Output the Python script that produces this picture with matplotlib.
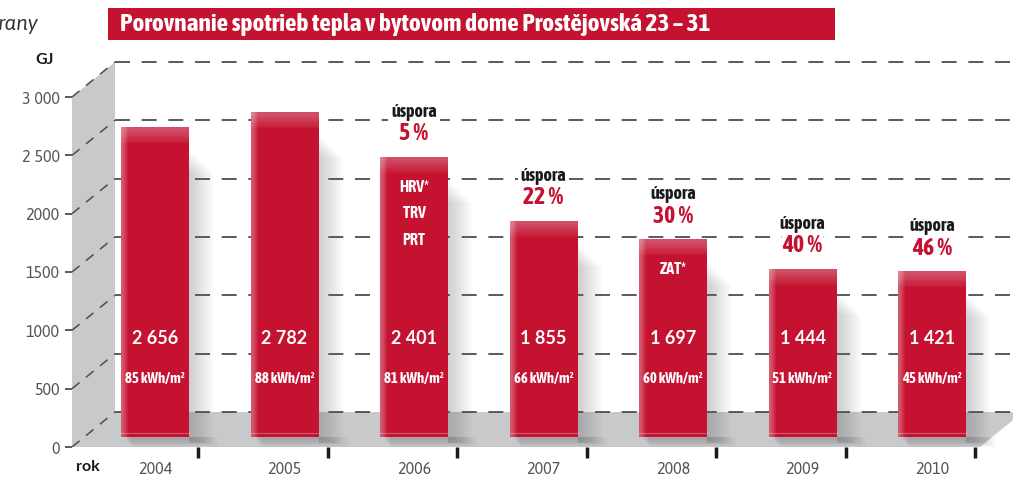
import matplotlib.pyplot as plt
from matplotlib.patches import Rectangle, Polygon

# data
years = ['2004', '2005', '2006', '2007', '2008', '2009', '2010']
heat_gj = [2656, 2782, 2401, 1855, 1697, 1444, 1421]
heat_labels = ['2 656', '2 782', '2 401', '1 855', '1 697', '1 444', '1 421']
specific_kwh = [85, 88, 81, 66, 60, 51, 45]
savings_pct = [None, None, 5, 22, 30, 40, 46]
measures = [[], [], ['HRV*', 'TRV', 'PRT'], [], ['ZAT*'], [], []]
y_ticks = [0, 500, 1000, 1500, 2000, 2500, 3000]
y_tick_labels = ['0', '500', '1000', '1500', '2000', '2 500', '3 000']

RED = '#c41230'
GRAY = '#c8c9cb'
DARK = '#4d4d4d'
NARROW = ['Asap Condensed', 'DejaVu Sans']
REGULAR = ['Asap', 'Lato', 'DejaVu Sans']
BOLD = ['Lato', 'DejaVu Sans']

plt.rcParams['font.family'] = REGULAR
plt.rcParams['lines.scale_dashes'] = False

W, H = 1013, 478
PX = 350 / 3000            # pixels per GJ
UNIT = 129.5               # pixels per category
XMIN = -(155 - 72) / UNIT
XMAX = XMIN + (W - 72) / UNIT
DX = 43 / UNIT             # depth offset (x)
DY = 35 / PX               # depth offset (y, GJ)
BASE = 10 / PX             # bars stand slightly behind the front edge
BAR_W = 68 / UNIT

fig = plt.figure(figsize=(W / 100, H / 100), dpi=100)
ax = fig.add_axes([72 / W, (H - 447) / H, (W - 72) / W, 447 / H])
ax.set_xlim(XMIN, XMAX)
ax.set_ylim(0, 447 / PX)
for s in ax.spines.values():
    s.set_visible(False)

# left wall and floor
ax.add_patch(Polygon([(XMIN, 0), (XMIN, 3000), (XMIN + DX, 3000 + DY), (XMIN + DX, DY)],
                     closed=True, color=GRAY, lw=0, zorder=1))
floor_right = XMIN + (980 - 72) / UNIT
ax.add_patch(Polygon([(XMIN, 0), (floor_right, 0), (floor_right + DX, DY), (XMIN + DX, DY)],
                     closed=True, color=GRAY, lw=0, zorder=1))

for v in y_ticks:
    ax.plot([XMIN + DX, XMAX], [v + DY, v + DY], color=DARK, lw=1.3,
            linestyle=(0, (10.8, 8.4)), zorder=2)
    ax.plot([XMIN, XMIN + DX], [v, v + DY], color=DARK, lw=1.1,
            linestyle=(0, (7, 6)), zorder=2)

# bars with soft shadow and glossy highlights
xs = list(range(len(years)))
for i, v in zip(xs, heat_gj):
    left = i - BAR_W / 2
    right = i + BAR_W / 2
    top = BASE + v
    # shadow to the right of the bar, fading outwards and towards the top
    for k in range(12):
        w = (2 + 2 * k) / UNIT
        h0 = BASE - 6 / PX
        ax.add_patch(Rectangle((right, h0), w, v - (18 + 2 * k) / PX,
                               color='#6b6b70', alpha=0.028, lw=0, zorder=3))
    # shadow on the floor below the bar
    for k in range(8):
        ax.add_patch(Rectangle((left + (4 + k) / UNIT, BASE - (3 + k) / PX),
                               BAR_W + (4 + 2 * k) / UNIT, (3 + k) / PX,
                               color='#6b6b70', alpha=0.05, lw=0, zorder=3))
    ax.bar(i, v, width=BAR_W, bottom=BASE, color=RED, lw=0, zorder=4)
    # left highlight strip
    for k in range(6):
        ax.add_patch(Rectangle((left, BASE), (7 - k) / UNIT, v, color='white',
                               alpha=0.06, lw=0, zorder=5))
    # top glossy band
    for k in range(6):
        ax.add_patch(Rectangle((left, top - (16 - 2.5 * k) / PX), BAR_W, (16 - 2.5 * k) / PX,
                               color='white', alpha=0.05, lw=0, zorder=5))
    ax.plot([left, right], [BASE + 4 / PX, BASE + 4 / PX], color='white', alpha=0.3, lw=0.8, zorder=5)

    ax.text(i, (447 - 338) / PX, heat_labels[i], ha='center', va='center', color='white',
            fontsize=13, fontweight='bold', family=BOLD, zorder=6)
    ax.text(i, (447 - 379) / PX, f'{specific_kwh[i]} kWh/m²', ha='center', va='center',
            color='white', fontsize=10.5, fontweight='bold', family=NARROW, zorder=6)
    for j, m in enumerate(measures[i]):
        ax.text(i, top - (30 + 26.5 * j) / PX, m, ha='center', va='center', color='white',
                fontsize=11.5, fontweight='bold', family=NARROW, zorder=6)
    if savings_pct[i] is not None:
        ax.text(i, top + 45 / PX, 'úspora', ha='center', va='center', color='#1a1a1a',
                fontsize=13, fontweight='bold', family=NARROW, zorder=6,
                bbox=dict(facecolor='white', edgecolor='none', pad=2))
        ax.text(i, top + 23 / PX, f'{savings_pct[i]} %', ha='center', va='center', color=RED,
                fontsize=17, fontweight='bold', family=NARROW, zorder=6,
                bbox=dict(facecolor='white', edgecolor='none', pad=0.5))

# axes ticks
ax.set_yticks(y_ticks)
ax.set_yticklabels(y_tick_labels)
ax.tick_params(axis='y', length=5, width=1.3, color=DARK, labelsize=11.5, labelcolor='#555555', pad=4)
ax.set_xticks(xs)
ax.set_xticklabels(years)
ax.tick_params(axis='x', length=0, labelsize=11.5, labelcolor='#555555', pad=10)
ax.set_xticks([i + DX for i in xs], minor=True)
ax.tick_params(axis='x', which='minor', length=8, width=2.5, color='#1a1a1a', direction='out')

# texts around
fig.text(45 / W, 1 - 60 / H, 'GJ', ha='center', va='center', fontsize=11.5, fontweight='bold',
         family=BOLD, color='#1a1a1a')
fig.text(88 / W, 1 - 467 / H, 'rok', ha='center', va='center', fontsize=11.5, fontweight='bold',
         family=BOLD, color='#1a1a1a')
fig.text(-2 / W, 1 - 24 / H, 'rany', ha='left', va='center', fontsize=15, style='italic', color='#333333')

fig.add_artist(Rectangle((108 / W, 1 - 40 / H), 727 / W, 32 / H, transform=fig.transFigure,
                         color=RED, lw=0))
fig.text(120 / W, 1 - 25 / H, 'Porovnanie spotrieb tepla v bytovom dome Prostějovská 23 – 31',
         ha='left', va='center', color='white', fontsize=18.3, fontweight='bold', family=NARROW)

fig.savefig('out.png', dpi=100, facecolor='white')
